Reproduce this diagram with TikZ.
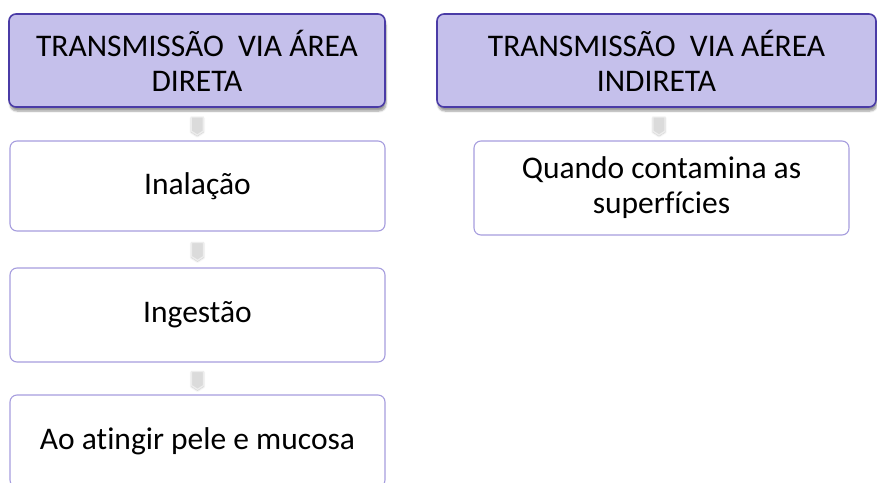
\documentclass[tikz,border=0pt]{standalone}
\usepackage{fontspec}
\setmainfont{Carlito}[Ligatures={NoCommon}]
\usetikzlibrary{shapes.symbols,shadows.blur}
\definecolor{hdrfill}{HTML}{C5C0EB}
\definecolor{hdrdraw}{HTML}{4A3BA6}
\definecolor{boxdraw}{HTML}{A69DDE}
\tikzset{
  hdr/.style={draw=hdrdraw, line width=1.6pt, fill=hdrfill, rounded corners=7pt,
    blur shadow={shadow xshift=1pt, shadow yshift=-4pt, shadow blur steps=6, shadow blur extra rounding=2pt},
    align=center, inner sep=0pt, font=\fontsize{31.5}{35}\selectfont, text=black},
  itembox/.style={draw=boxdraw, line width=1.1pt, fill=white, rounded corners=7pt,
    align=center, inner sep=0pt, font=\fontsize{31.5}{35}\selectfont, text=black},
  chev/.style={signal, signal to=south, signal pointer angle=115, fill=gray!28,
    draw=gray!14, line width=1.2pt, minimum width=12pt, minimum height=14pt, inner sep=0pt,
    blur shadow={shadow xshift=0pt, shadow yshift=-1pt, shadow opacity=25, shadow blur steps=4}}
}
\begin{document}
\begin{tikzpicture}[x=1pt,y=-1pt]
\useasboundingbox (0,0) rectangle (877,482);
\clip (0,0) rectangle (877,482);
\node[hdr, minimum width=376pt, minimum height=93pt] (h1) at (197,60.5) {TRANSMISSÃO\ \ VIA ÁREA\\DIRETA};
\node[hdr, minimum width=439pt, minimum height=93pt] (h2) at (656.5,60.5) {TRANSMISSÃO\ \ VIA AÉREA\\INDIRETA};
\node[itembox, minimum width=375pt, minimum height=90pt] (b1) at (197.5,186) {Inalação};
\node[itembox, minimum width=375pt, minimum height=94pt] (b2) at (197.5,315) {Ingestão};
\node[itembox, minimum width=375pt, minimum height=92pt] (b3) at (197.5,441) {Ao atingir pele e mucosa};
\node[itembox, minimum width=375pt, minimum height=94pt] (b4) at (661.5,188) {Quando contamina as\\superfícies};
\path (h1.south) -- (b1.north) node[midway, chev] (c1) {};
\path (b1.south) -- (b2.north) node[midway, chev] (c2) {};
\path (b2.south) -- (b3.north) node[midway, chev] (c3) {};
\path (h2.south) -- (b4.north) node[midway, chev] (c4) {};
\end{tikzpicture}
\end{document}
